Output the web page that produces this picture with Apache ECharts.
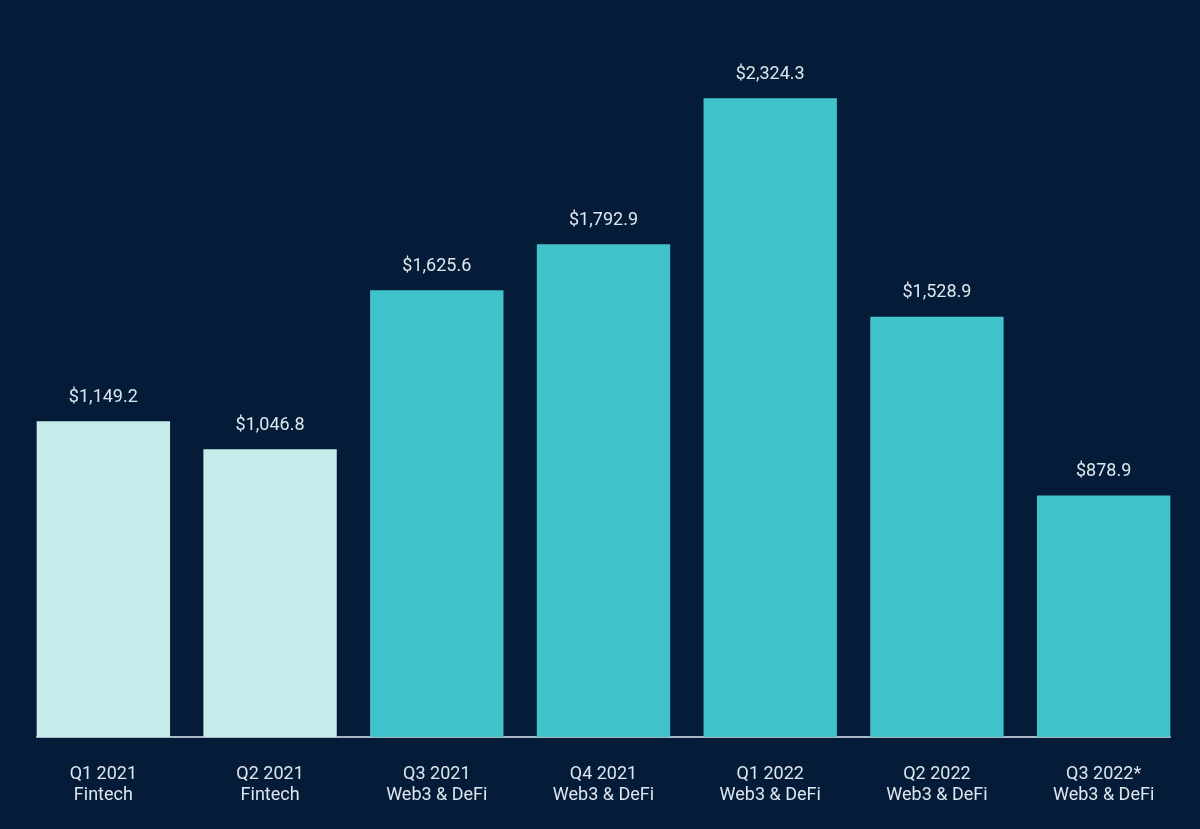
<!DOCTYPE html>
<html><head><meta charset="utf-8">
<script src="https://cdn.jsdelivr.net/npm/echarts@6/dist/echarts.min.js"></script>
<style>html,body{margin:0;padding:0;background:#051c38;}#c{width:1200px;height:829px;}</style>
</head><body><div id="c"></div>
<script>
const quarters = ["Q1 2021","Q2 2021","Q3 2021","Q4 2021","Q1 2022","Q2 2022","Q3 2022*"];
const sectors = ["Fintech","Fintech","Web3 & DeFi","Web3 & DeFi","Web3 & DeFi","Web3 & DeFi","Web3 & DeFi"];
const values = [1149.2, 1046.8, 1625.6, 1792.9, 2324.3, 1528.9, 878.9];
const FONT = "Roboto, sans-serif";
const chart = echarts.init(document.getElementById('c'));
chart.setOption({
  backgroundColor: '#051c38',
  animation: false,
  grid: [
    {left: 20, right: 13, top: 50, bottom: 92},
    {left: 37, right: 30, top: 50, bottom: 92}
  ],
  xAxis: [{
    type: 'category', gridIndex: 0,
    data: quarters.map((q,i)=>q+'\n'+sectors[i]),
    axisLine: {show: false},
    axisTick: {show: false},
    axisLabel: {color: '#dde6ee', fontFamily: FONT, fontSize: 18, lineHeight: 21, margin: 27, interval: 0}
  }, {
    type: 'category', gridIndex: 1, data: quarters,
    axisLine: {show: true, lineStyle: {color: '#aab6c2', width: 2}},
    axisTick: {show: false}, axisLabel: {show: false}
  }],
  yAxis: [
    {type: 'value', gridIndex: 0, min: 0, max: 2500, show: false, splitLine: {show: false}},
    {type: 'value', gridIndex: 1, min: 0, max: 2500, show: false, splitLine: {show: false}}
  ],
  series: [{
    type: 'bar',
    barWidth: '80%',
    data: values.map((v,i)=>({value: v, itemStyle: {color: sectors[i]==='Fintech' ? '#c6ecec' : '#40c3ca'}})),
    label: {
      show: true, position: 'top', distance: 15,
      color: '#dde6ee', fontFamily: FONT, fontSize: 18,
      formatter: p => '$' + p.value.toLocaleString('en-US', {minimumFractionDigits: 1, maximumFractionDigits: 1})
    }
  }]
});
</script></body></html>
